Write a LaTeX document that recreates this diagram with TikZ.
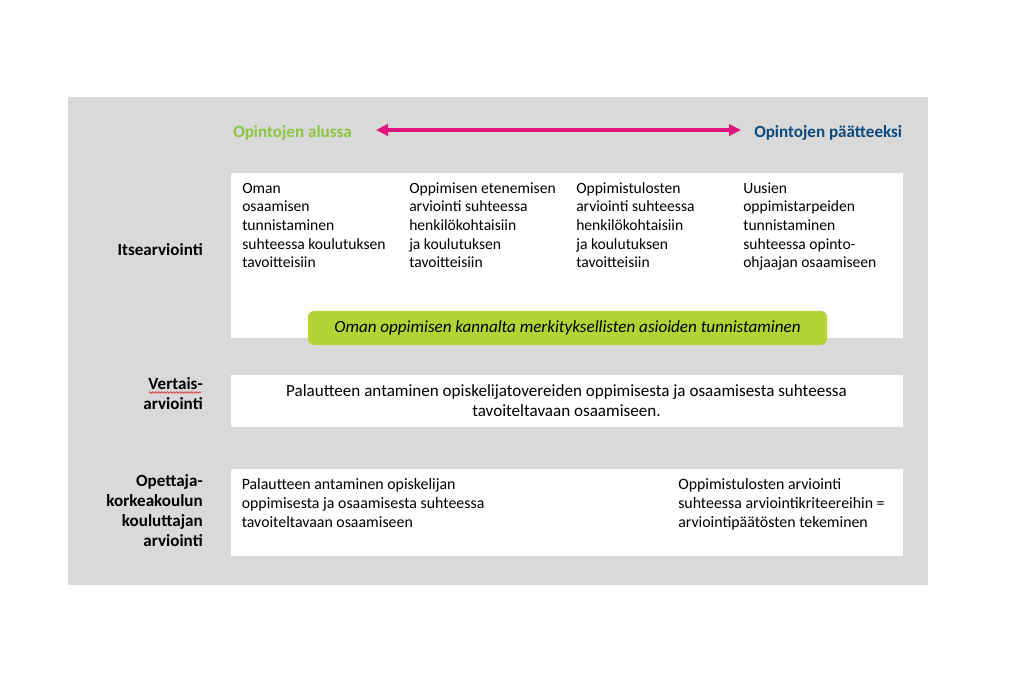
\documentclass[tikz,border=0pt]{standalone}
\usepackage{fontspec}
\setmainfont{Carlito}
\usetikzlibrary{arrows.meta,decorations.pathmorphing}
\definecolor{bggray}{HTML}{D9D9D9}
\definecolor{startgreen}{HTML}{8CC63F}
\definecolor{endblue}{HTML}{0B4A7E}
\definecolor{arrowmag}{HTML}{E0147D}
\definecolor{boxgreen}{HTML}{B5D334}
\definecolor{spellred}{HTML}{E03030}
\begin{document}
\begin{tikzpicture}[x=0.75pt,y=-0.75pt,
  whitebox/.style={fill=white,draw=none,inner sep=0pt,outer sep=0pt},
  coltext/.style={anchor=base west,inner sep=0pt,align=left,font=\fontsize{11.7pt}{14pt}\selectfont},
  lowtext/.style={anchor=base west,inner sep=0pt,align=left,font=\fontsize{11.9pt}{14.2pt}\selectfont},
  rowlabel/.style={anchor=base east,inner sep=0pt,align=right,font=\fontsize{12.8pt}{15pt}\selectfont\bfseries},
  headtext/.style={anchor=base west,inner sep=0pt,font=\fontsize{12.8pt}{15pt}\selectfont\bfseries}]
\useasboundingbox (0,0) rectangle (1028,677);
\fill[bggray] (68,97) rectangle (928,585);
% header
\node[headtext,text=startgreen] (start) at (233,138) {Opintojen alussa};
\node[headtext,text=endblue] (end) at (754,138) {Opintojen päätteeksi};
\coordinate (arrL) at (376,130);
\coordinate (arrR) at (741,130);
\draw[arrowmag,line width=3pt,{Triangle[length=9pt,width=8.5pt]}-{Triangle[length=9pt,width=8.5pt]}] (arrL) -- (arrR);
% row 1
\path[whitebox] (231,173) rectangle (903,338);
\node[coltext] (c1) at (242,267.8) {Oman\\osaamisen\\tunnistaminen\\suhteessa koulutuksen\\tavoitteisiin};
\node[coltext] (c2) at (409,267.8) {Oppimisen etenemisen\\arviointi suhteessa\\henkilökohtaisiin\\ja koulutuksen\\tavoitteisiin};
\node[coltext] (c3) at (576,267.8) {Oppimistulosten\\arviointi suhteessa\\henkilökohtaisiin\\ja koulutuksen\\tavoitteisiin};
\node[coltext] (c4) at (743,267.8) {Uusien\\oppimistarpeiden\\tunnistaminen\\suhteessa opinto-\\ohjaajan osaamiseen};
\fill[boxgreen,rounded corners=4.5pt] (308,311) rectangle (827,345);
\node[anchor=base,inner sep=0pt,font=\fontsize{12.8pt}{15pt}\selectfont\itshape] (gtext) at (567.5,333) {Oman oppimisen kannalta merkityksellisten asioiden tunnistaminen};
\node[rowlabel] (l1) at (203,256) {Itsearviointi};
% row 2
\path[whitebox] (231,375) rectangle (903,427);
\node[anchor=base,inner sep=0pt,align=center,font=\fontsize{12.8pt}{15pt}\selectfont] (t2) at (566.5,416) {Palautteen antaminen opiskelijatovereiden oppimisesta ja osaamisesta suhteessa\\tavoiteltavaan osaamiseen.};
\node[rowlabel] (l2) at (203,409.3) {Vertais-\\arviointi};
\coordinate (sqL) at (149,392.5);
\coordinate (sqR) at (201,392.5);
\draw[spellred,line width=0.5pt,decorate,decoration={snake,amplitude=0.6pt,segment length=2.2pt}] (sqL) -- (sqR);
% row 3
\path[whitebox] (231,469) rectangle (903,556);
\node[lowtext] (t3a) at (241.5,527.5) {Palautteen antaminen opiskelijan\\oppimisesta ja osaamisesta suhteessa\\tavoiteltavaan osaamiseen};
\node[lowtext] (t3b) at (678,527.5) {Oppimistulosten arviointi\\suhteessa arviointikriteereihin =\\arviointipäätösten tekeminen};
\node[rowlabel] (l3) at (203,546.7) {Opettaja-\\korkeakoulun\\kouluttajan\\arviointi};
\end{tikzpicture}
\end{document}
